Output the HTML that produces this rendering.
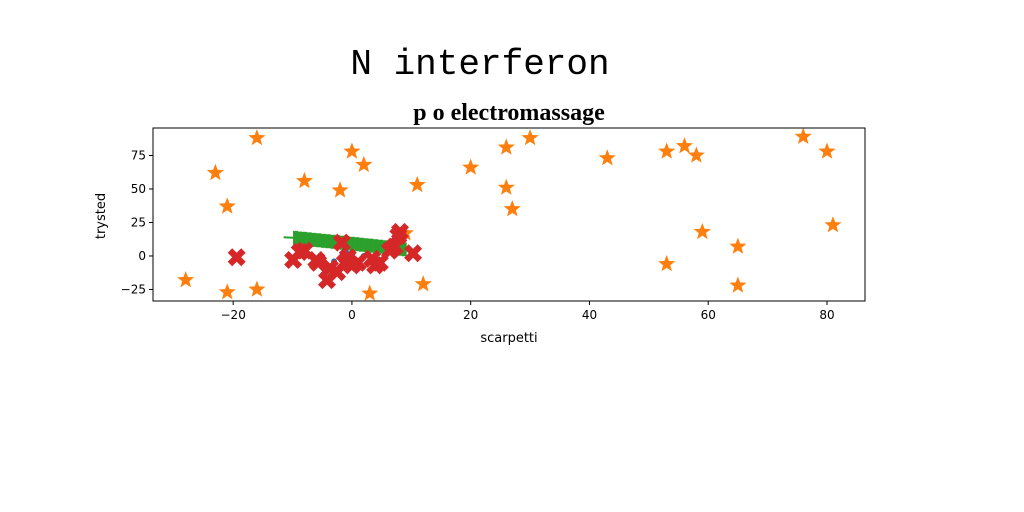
<!DOCTYPE html>
<html><head><meta charset="utf-8"><style>
html,body{margin:0;padding:0;background:#fff;}
svg{display:block;}
</style></head><body>
<svg id="chart" width="1024" height="512" xmlns="http://www.w3.org/2000/svg">
<rect width="1024" height="512" fill="#fff"/>
<text x="480" y="74" text-anchor="middle" font-family="Liberation Mono, monospace" font-size="36" fill="#000">N interferon</text>
<text x="509" y="120" text-anchor="middle" font-family="Liberation Serif, serif" font-weight="bold" font-size="24" fill="#000">p o electromassage</text>
<g id="plot"></g>
<text x="509" y="342" text-anchor="middle" font-family="DejaVu Sans, sans-serif" font-size="13">scarpetti</text>
<text x="105" y="216" text-anchor="middle" transform="rotate(-90 105 216)" font-family="DejaVu Sans, sans-serif" font-size="13">trysted</text>
</svg>
<script>
const xTicks=[-20,0,20,40,60,80];
const yTicks=[-25,0,25,50,75];
const starX=[-28,-23,-21,-21,-16,-16,-8,-2,0,2,3,9,11,12,20,26,26,27,30,43,53,53,56,58,59,65,65,76,80,81];
const starY=[-18,62,37,-27,88,-25,56,49,78,68,-28,17,53,-21,66,81,51,35,88,73,78,-6,82,75,18,7,-22,89,78,23];
const greenX=[-9.5,-8.8,-8,-7.2,-6.4,-5.6,-4.8,-4,-3.2,-2.4,-1.6,-0.8,0,0.8,1.6,2.4,3.2,4,4.8,5.6,6.4,7.2,8,8.8];
const greenY=[13.5,13,12.8,12.4,12,11.7,11.3,11,10.6,10.2,9.9,9.5,9.1,8.8,8.4,8,7.7,7.3,6.9,6.5,6.2,5.8,5.4,5];
const blueX=[-3,0,2,-1,1.5,4];
const blueY=[-4,-2,0,3,-7,-3];
const redX=[-19.4,-9.9,-8.8,-8,-5.7,-4.2,-3.7,-2.5,-1.7,-1.2,0,1,3.4,3.9,4.7,6.4,7.8,8.1,7.2,10.3,-6,-0.7];
const redY=[-1,-3,3,4,-5,-18,-9,-12,10,-5,-7,-5,-2,-7,-5,4,15,18,7,2,-3,-1];

const L=153,R=865,T=128,B=301;
const xMin=-33.5,xMax=86.4,yMin=-33.6,yMax=95.5;
const sx=v=>L+(v-xMin)/(xMax-xMin)*(R-L);
const sy=v=>B-(v-yMin)/(yMax-yMin)*(B-T);
const NS='http://www.w3.org/2000/svg';
const g=document.getElementById('plot');
function mk(tag,attrs,parent){const e=document.createElementNS(NS,tag);for(const k in attrs)e.setAttribute(k,attrs[k]);(parent||g).appendChild(e);return e;}

const clip=mk('clipPath',{id:'cp'});mk('rect',{x:L,y:T,width:R-L,height:B-T},clip);
const marks=mk('g',{'clip-path':'url(#cp)'});

function starPath(cx,cy,r){let p='';for(let i=0;i<10;i++){const a=-Math.PI/2+i*Math.PI/5;const rr=i%2?r*0.42:r;p+=(i?'L':'M')+(cx+rr*Math.cos(a)).toFixed(1)+','+(cy+rr*Math.sin(a)).toFixed(1);}return p+'Z';}
starX.forEach((x,i)=>{
 const s=mk('path',{d:starPath(sx(x),sy(starY[i]),9),fill:'#ff7f0e'},marks);
 
 
});
const gl=mk('polyline',{points:[[sx(-11.5),sy(14)]].concat(greenX.map((x,i)=>[sx(x),sy(greenY[i])])).map(p=>p.join(',')).join(' '),fill:'none',stroke:'#2ca02c','stroke-width':2},marks);


greenX.forEach((x,i)=>{
 const cx=sx(x),cy=sy(greenY[i]);
 const m=mk('path',{d:`M${cx-2.5},${cy-7}h5v14h-5z`,fill:'#2ca02c'},marks);
 
 
});
blueX.forEach((x,i)=>{
 const c=mk('circle',{cx:sx(x),cy:sy(blueY[i]),r:3,fill:'#1f77b4'},marks);
 
 
});
function xPath(cx,cy,r){const w=r*0.5;const pts=[[0,-w],[r-w,-r],[r,-r+w],[w,0],[r,r-w],[r-w,r],[0,w],[-r+w,r],[-r,r-w],[-w,0],[-r,-r+w],[-r+w,-r]];return 'M'+pts.map(p=>(cx+p[0]).toFixed(1)+','+(cy+p[1]).toFixed(1)).join('L')+'Z';}
redX.forEach((x,i)=>{
 const m=mk('path',{d:xPath(sx(x),sy(redY[i]),9),fill:'#d62728'},marks);
 
 
});
const fr=mk('rect',{x:L,y:T,width:R-L,height:B-T,fill:'none',stroke:'#000','stroke-width':1});


xTicks.forEach(t=>{
 const x=sx(t);
 mk('line',{x1:x,x2:x,y1:B,y2:B+4,stroke:'#000'});
 const tx=mk('text',{x:x,y:B+18,'text-anchor':'middle','font-family':'DejaVu Sans, sans-serif','font-size':12});
 tx.textContent=t<0?'\u2212'+(-t):t;
 
 
});
yTicks.forEach(t=>{
 const y=sy(t);
 mk('line',{x1:L-4,x2:L,y1:y,y2:y,stroke:'#000'});
 const tx=mk('text',{x:L-7,y:y+4,'text-anchor':'end','font-family':'DejaVu Sans, sans-serif','font-size':12});
 tx.textContent=t<0?'\u2212'+(-t):t;
 
 
});
</script>
</body></html>
